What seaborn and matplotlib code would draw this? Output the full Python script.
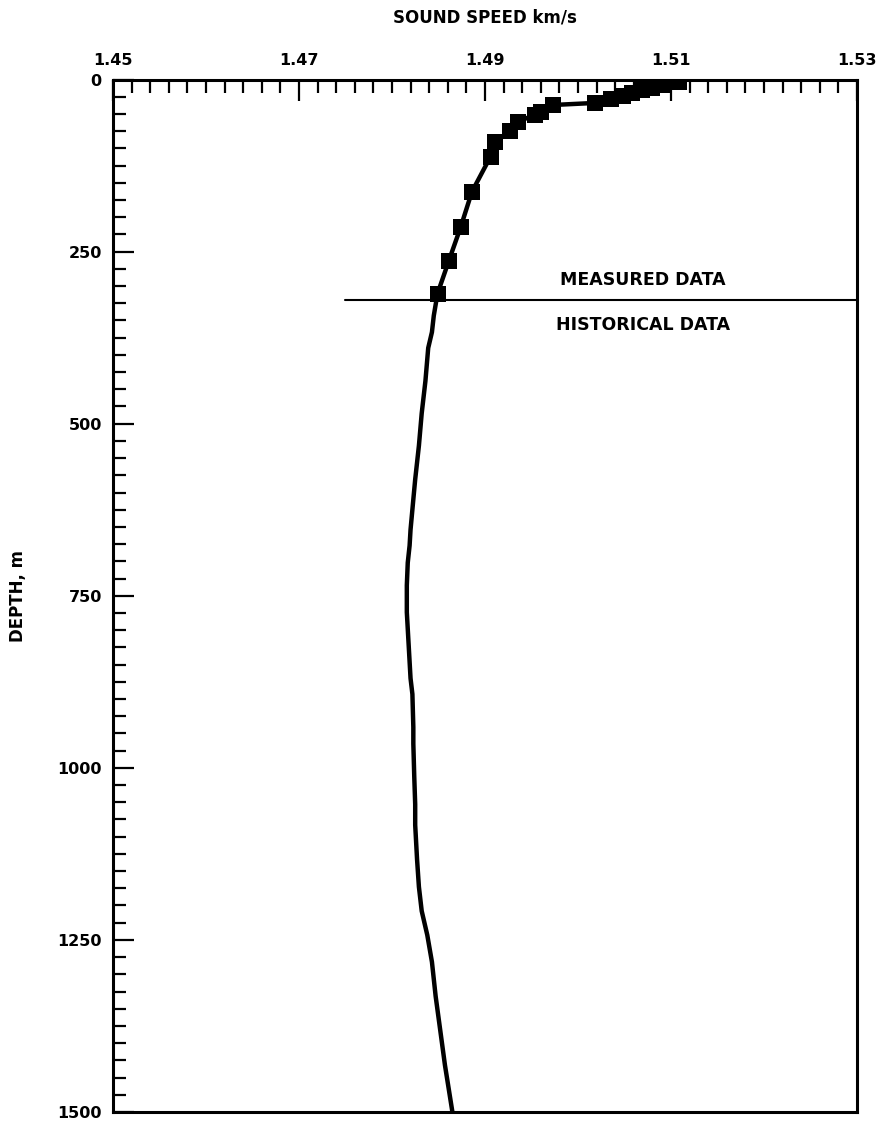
import numpy as np
import pandas as pd
import seaborn as sns
import matplotlib.pyplot as plt
from matplotlib.ticker import MultipleLocator

# measured sound speed profile (km/s vs depth m)
meas_speed = [1.5109, 1.5091, 1.5080, 1.5069, 1.5058, 1.5048, 1.5035, 1.5018,
              1.4973, 1.4960, 1.4954, 1.4936, 1.4927, 1.4911, 1.4906, 1.4886,
              1.4874, 1.4861, 1.4849]
meas_depth = [4, 8, 12, 15, 19, 24, 28, 34, 37, 47, 51, 61, 75, 91, 112, 163,
              214, 264, 311]

# historical profile below the measured data
hist_speed = [1.4845, 1.4843, 1.4839, 1.4836, 1.4832, 1.4829, 1.4825, 1.4823,
              1.4820, 1.4819, 1.4817, 1.4816, 1.4816, 1.4818, 1.4820, 1.4822,
              1.4823, 1.4823, 1.4824, 1.4825, 1.4825, 1.4827, 1.4829, 1.4832,
              1.4838, 1.4843, 1.4847, 1.4852, 1.4857, 1.4865]
hist_depth = [343, 367, 390, 438, 485, 532, 581, 610, 654, 677, 702, 735, 774,
              822, 870, 893, 941, 965, 1013, 1053, 1083, 1133, 1173, 1208,
              1243, 1282, 1332, 1382, 1432, 1500]

divider_depth = 320
divider_start = 1.475

x_ticks = [1.45, 1.47, 1.49, 1.51, 1.53]
y_ticks = [0, 250, 500, 750, 1000, 1250, 1500]

sns.set_style("ticks")
plt.rcParams['font.family'] = ['DejaVu Sans']
for key in ['text.color', 'axes.labelcolor', 'xtick.color', 'ytick.color']:
    plt.rcParams[key] = 'black'

meas = pd.DataFrame({'speed': meas_speed, 'depth': meas_depth})
profile = pd.DataFrame({'speed': meas_speed + hist_speed,
                        'depth': meas_depth + hist_depth})

fig = plt.figure(figsize=(8.89, 11.25), dpi=100)
ax = fig.add_axes([0.127, 0.0116, 0.837, 0.9177])

sns.lineplot(data=profile, x='speed', y='depth', sort=False, estimator=None,
             color='black', lw=3.2, ax=ax)
sns.scatterplot(data=meas, x='speed', y='depth', marker='s', s=120,
                color='black', edgecolor='black', linewidth=0, ax=ax, zorder=3)

ax.plot([divider_start, x_ticks[-1]], [divider_depth, divider_depth],
        color='black', lw=1.5)
ax.text(1.507, 291, 'MEASURED DATA', ha='center', va='center', fontsize=12.5,
        fontweight='bold')
ax.text(1.507, 357, 'HISTORICAL DATA', ha='center', va='center', fontsize=12.5,
        fontweight='bold')

ax.set_xlim(x_ticks[0], x_ticks[-1])
ax.set_ylim(1500, 0)
ax.xaxis.tick_top()
ax.xaxis.set_label_position('top')
ax.set_xticks(x_ticks)
ax.set_xticklabels([f'{v:.2f}' for v in x_ticks])
ax.set_yticks(y_ticks)
ax.xaxis.set_minor_locator(MultipleLocator(0.002))
ax.yaxis.set_minor_locator(MultipleLocator(25))

ax.tick_params(which='major', direction='in', length=15, width=1.6,
               labelsize=11.5, pad=8, color='black')
ax.tick_params(which='minor', direction='in', length=9, width=1.6,
               color='black')
ax.tick_params(axis='y', which='both', right=False)
ax.tick_params(axis='x', which='both', bottom=False)
for lab in ax.get_xticklabels() + ax.get_yticklabels():
    lab.set_fontweight('bold')

ax.set_xlabel('SOUND SPEED km/s', fontsize=12, fontweight='bold', labelpad=22)
ax.set_ylabel('DEPTH, m', fontsize=12, fontweight='bold', labelpad=22)

for sp in ax.spines.values():
    sp.set_linewidth(2.2)
    sp.set_color('black')

fig.savefig('out.png', dpi=100)
